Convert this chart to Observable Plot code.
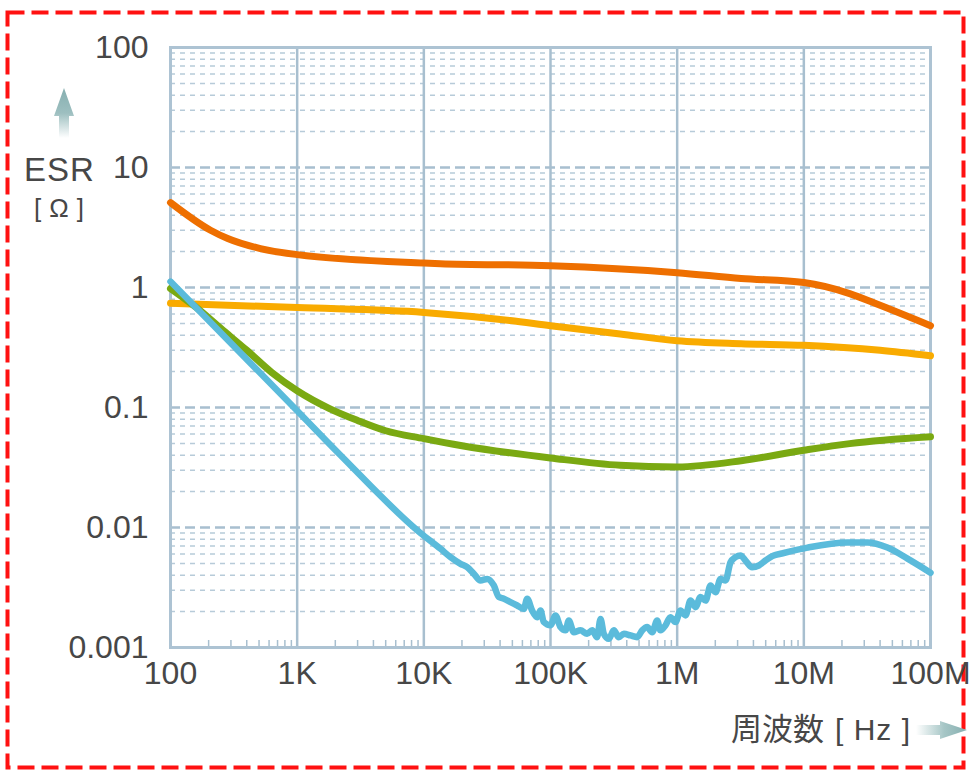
<!DOCTYPE html>
<html>
<head>
<meta charset="utf-8">
<script src="https://cdn.jsdelivr.net/npm/d3@7"></script>
<script src="https://cdn.jsdelivr.net/npm/@observablehq/plot@0.6"></script>
<style>
  body { margin: 0; background: #fff; }
  #wrap { position: relative; width: 969px; height: 772px; overflow: hidden; font-family: "Liberation Sans", Arial, sans-serif; color: #474747; }
  #chart { position: absolute; left: 0; top: 0; }
  .lbl { position: absolute; white-space: nowrap; }
</style>
</head>
<body>
<div id="wrap">
  <svg class="lbl" style="left:0;top:0" width="969" height="772">
    <rect x="7.5" y="12.5" width="956" height="755" fill="none" stroke="#ff1111" stroke-width="4" stroke-dasharray="17,7"/>
  </svg>
  <div id="chart"></div>
  <svg class="lbl" style="left:50px;top:86px" width="28" height="52">
    <defs>
      <linearGradient id="gu" x1="0" y1="0" x2="0" y2="1">
        <stop offset="0" stop-color="#86afb0"/>
        <stop offset="0.5" stop-color="#9dbfc0"/>
        <stop offset="1" stop-color="#ffffff"/>
      </linearGradient>
    </defs>
    <path d="M14,2 L24,30 L19,30 L19,52 L9,52 L9,30 L4,30 Z" fill="url(#gu)"/>
  </svg>
  <div class="lbl" style="left:24px;top:151px;font-size:33px;letter-spacing:1px;line-height:normal;">ESR</div>
  <div class="lbl" style="left:34px;top:193px;font-size:26px;letter-spacing:8px;">[Ω]</div>
  <div class="lbl" style="left:731px;top:711px;font-size:31px;line-height:31px;font-family:'Noto Sans CJK JP','Noto Sans CJK SC',sans-serif;">周波数<span style="font-family:'Liberation Sans',Arial,sans-serif;font-size:30px;letter-spacing:1px;margin-left:11px;white-space:pre;">[ Hz ]</span></div>
  <svg class="lbl" style="left:916px;top:719px" width="53" height="22">
    <defs>
      <linearGradient id="gr" x1="0" y1="0" x2="1" y2="0">
        <stop offset="0" stop-color="#ffffff"/>
        <stop offset="0.55" stop-color="#a6c6c6"/>
        <stop offset="1" stop-color="#86afb0"/>
      </linearGradient>
    </defs>
    <path d="M0,6 L24,6 L24,2 L51,11 L24,20 L24,16 L0,16 Z" fill="url(#gr)"/>
  </svg>
</div>
<script>
// ---- data ----
const xTicks = [1e2, 1e3, 1e4, 1e5, 1e6, 1e7, 1e8];
const xLabels = ["100", "1K", "10K", "100K", "1M", "10M", "100M"];
const yTicks = [0.001, 0.01, 0.1, 1, 10, 100];
const yLabels = ["0.001", "0.01", "0.1", "1", "10", "100"];

const orangeF = [100, 207, 283, 513, 1000, 10000, 13500, 100000, 1e6, 3.2e6, 1e7, 2.3e7, 4e7, 1e8];
const orangeV = [5.1, 3.0, 2.56, 2.11, 1.88, 1.6, 1.58, 1.52, 1.33, 1.19, 1.1, 0.89, 0.71, 0.48];

const yellowF = [100, 1000, 10000, 48000, 100000, 355000, 1e6, 3.2e6, 1e7, 4e7, 1e8];
const yellowV = [0.74, 0.68, 0.62, 0.53, 0.48, 0.41, 0.36, 0.34, 0.33, 0.30, 0.27];

const greenF = [100, 160, 250, 400, 630, 1000, 1800, 3000, 5000, 10000, 20000, 100000, 355000, 1e6, 3.2e6, 1e7, 2.3e7, 1e8];
const greenV = [0.98, 0.68, 0.455, 0.3, 0.196, 0.138, 0.098, 0.078, 0.064, 0.055, 0.048, 0.038, 0.033, 0.032, 0.036, 0.044, 0.05, 0.057];

const blueF = [100, 1000, 2200, 9400, 13550, 16240, 19480, 21990, 24830, 28000, 31620, 35700, 39100, 42850, 48300, 54600, 61550, 65460, 71640, 78520, 83370, 88510, 100000, 109500, 119900, 131300, 139500, 152800, 172500, 194500, 213300, 233400, 248300, 263600, 288400, 316200, 345900, 379300, 428500, 483100, 529600, 579400, 635300, 695000, 738300, 809100, 885000, 970000, 1.062e6, 1.164e6, 1.274e6, 1.396e6, 1.528e6, 1.675e6, 1.833e6, 2.009e6, 2.198e6, 2.41e6, 2.637e6, 2.89e6, 3.162e6, 3.459e6, 3.906e6, 4.412e6, 4.977e6, 5.794e6, 6.546e6, 1.07e7, 2.21e7, 3.18e7, 4.57e7, 6.58e7, 1e8];
const blueV = [1.12, 0.094, 0.04, 0.009, 0.00664, 0.00566, 0.00498, 0.00467, 0.00411, 0.00362, 0.00373, 0.00329, 0.00263, 0.00255, 0.00239, 0.00224, 0.0021, 0.00255, 0.00203, 0.00179, 0.00203, 0.00163, 0.00153, 0.00185, 0.00148, 0.00139, 0.00168, 0.00134, 0.00139, 0.0013, 0.00139, 0.00122, 0.00173, 0.0013, 0.00118, 0.00139, 0.00122, 0.0013, 0.00126, 0.00122, 0.00139, 0.00148, 0.00134, 0.00168, 0.00139, 0.00153, 0.00179, 0.00163, 0.00203, 0.00185, 0.00246, 0.00217, 0.00263, 0.00246, 0.00329, 0.00289, 0.00373, 0.00362, 0.00514, 0.00566, 0.00585, 0.00531, 0.00467, 0.00482, 0.00531, 0.00585, 0.00604, 0.0068, 0.0075, 0.0075, 0.0068, 0.0055, 0.0042];

// ---- build ----
const toRows = (F, V) => F.map((f, i) => ({f, v: V[i]}));
const minorMult = [2, 3, 4, 5, 6, 7, 8, 9];
const minorY = yTicks.slice(0, -1).flatMap(d => minorMult.map(m => d * m));
const minorX = xTicks.slice(0, -1).flatMap(d => minorMult.map(m => d * m));
const innerX = xTicks.slice(1, -1);
const innerY = yTicks.slice(1, -1);
const labX = d => xLabels[Math.round(Math.log10(d)) - 2];
const labY = d => yLabels[Math.round(Math.log10(d)) + 3];

const lineOpts = (color, w) => ({x: "f", y: "v", stroke: color, strokeWidth: w, curve: "monotone-x", strokeLinejoin: "round", strokeLinecap: "round"});

const chart = Plot.plot({
  width: 969,
  height: 700,
  marginLeft: 170,
  marginRight: 39,
  marginTop: 47,
  marginBottom: 53,
  style: {fontFamily: "'Liberation Sans', Arial, sans-serif", fontSize: "32px", color: "#474747", background: "transparent"},
  x: {type: "log", domain: [1e2, 1e8]},
  y: {type: "log", domain: [0.001, 100]},
  marks: [
    Plot.ruleY(minorY, {stroke: "#b7cbd9", strokeWidth: 1.5, strokeDasharray: "5,5"}),
    Plot.ruleY(innerY, {stroke: "#a8bfcf", strokeWidth: 2.5, strokeDasharray: "10,5"}),
    Plot.ruleX(innerX, {stroke: "#a8bfcf", strokeWidth: 2.5}),
    Plot.axisX({ticks: minorX, tickSize: -7, tickFormat: () => "", label: null, stroke: "#a8bfcf", strokeWidth: 1.5}),
    Plot.axisX({ticks: xTicks, tickSize: 0, tickPadding: 14, tickFormat: labX, label: null, fontSize: 32, fill: "#474747"}),
    Plot.axisY({ticks: yTicks, tickSize: 0, tickPadding: 22, tickFormat: labY, label: null, fontSize: 32, fill: "#474747"}),
    Plot.frame({stroke: "#adc3d3", strokeWidth: 3}),
    Plot.line(toRows(yellowF, yellowV), lineOpts("#f9ab00", 7)),
    Plot.line(toRows(orangeF, orangeV), lineOpts("#ee6f00", 7)),
    Plot.line(toRows(greenF, greenV), lineOpts("#7aa912", 7)),
    Plot.line(toRows(blueF, blueV), lineOpts("#5bbbdb", 6.5))
  ]
});
document.getElementById("chart").appendChild(chart);
</script>
</body>
</html>
